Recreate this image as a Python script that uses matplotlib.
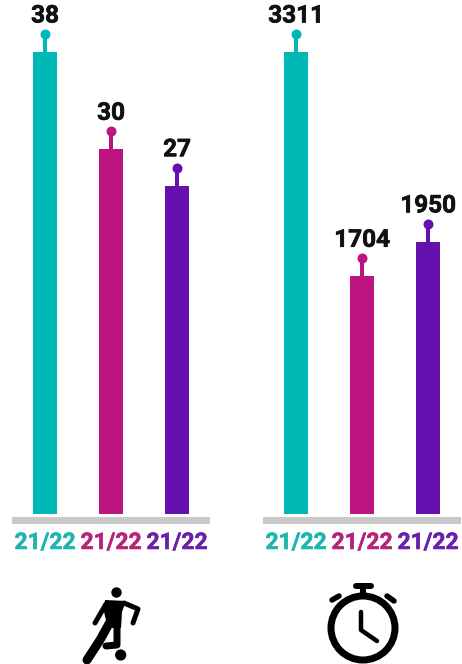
import numpy as np
import matplotlib
matplotlib.use('Agg')
import matplotlib.pyplot as plt
import matplotlib.patheffects as pe
from matplotlib.patches import Circle, Polygon, Rectangle
from matplotlib.transforms import ScaledTranslation

plt.rcParams['font.family'] = ['Roboto', 'DejaVu Sans']

# Data
seasons = ['21/22', '21/22', '21/22']
games = [38, 30, 27]
minutes = [3311, 1704, 1950]
bar_colors = ['#00B9B6', '#BC1480', '#6410AE']
label_colors = ['#1DB6AE', '#B8237A', '#6A20A9']

W, H = 462, 664
BASE = 514  # pixel row of the bars' foot
TOP = 52    # pixel row of the tallest bar
px = 0.72   # pixels to points at dpi 100

fig = plt.figure(figsize=(W / 100, H / 100), dpi=100)
fig.patch.set_facecolor('white')


def bar_panel(left, values):
    ax = fig.add_axes([left / W, (H - BASE) / H, 198 / W, BASE / H])
    ax.patch.set_alpha(0)
    x = np.arange(len(values))
    ax.bar(x, values, width=24 / 66, color=bar_colors)
    ax.set_xlim(-0.5, 2.5)
    ax.set_ylim(0, max(values) * BASE / (BASE - TOP))
    ax.set_yticks([])
    ax.set_xticks(x)
    ax.set_xticklabels(seasons, fontsize=16.5, fontweight='bold')
    for lab, c in zip(ax.get_xticklabels(), label_colors):
        lab.set_color(c)
        lab.set_path_effects([pe.withStroke(linewidth=0.4, foreground=c)])
    ax.tick_params(axis='x', length=0, pad=17 * px)
    for s in ax.spines.values():
        s.set_visible(False)
    lift = ScaledTranslation(0, 18 / 100, fig.dpi_scale_trans)
    for xi, v, c in zip(x, values, bar_colors):
        # stem and dot sit a fixed distance above the bar
        ax.annotate('', xy=(xi, v), xytext=(0, 18 * px), textcoords='offset points',
                    arrowprops=dict(arrowstyle='-', color=c, lw=4 * px, shrinkA=0, shrinkB=0))
        ax.plot([xi], [v], marker='o', ms=10 * px, mew=0, color=c, clip_on=False,
                transform=ax.transData + lift)
        ax.annotate(str(v), xy=(xi, v), xytext=(0, 36 * px), textcoords='offset points',
                    ha='center', va='center', fontsize=17.5, fontweight='bold', color='#111111',
                    path_effects=[pe.withStroke(linewidth=0.5, foreground='#111111')])
    return ax


ax1 = bar_panel(12, games)
ax2 = bar_panel(263, minutes)

# Overlay in pixel coordinates for the base rules and the icons
ov = fig.add_axes([0, 0, 1, 1], zorder=-1)
ov.set_xlim(0, W)
ov.set_ylim(H, 0)
ov.axis('off')
ov.add_patch(Rectangle((12, 517), 198, 7, color='#C9C9C9', lw=0))
ov.add_patch(Rectangle((263, 517), 198, 7, color='#C9C9C9', lw=0))


def stroke(xs, ys, w):
    ov.plot(xs, ys, color='black', lw=w * px, solid_capstyle='round', solid_joinstyle='round')


# Footballer
ov.add_patch(Circle((116.5, 592.5), 5.2, color='black', lw=0))
ov.add_patch(Circle((120.7, 655), 5.6, color='black', lw=0))
ov.add_patch(Polygon([(105, 600), (126, 601), (122, 612), (121, 628), (108, 628), (104, 612)],
                     color='black', lw=0))
stroke([106, 95], [604, 623], 5)
stroke([124, 138, 133], [603, 609, 623], 5)
stroke([110, 100, 87], [622, 640, 660], 9)
stroke([117, 117, 106], [625, 645, 646], 7)

# Stopwatch
ov.add_patch(Circle((363, 628), 32, fill=False, ec='black', lw=7 * px))
stroke([363, 363], [586, 596], 6)
stroke([356, 371], [586, 586], 6)
stroke([332, 339], [600, 596], 5.5)
stroke([387, 394], [596, 601], 5.5)
stroke([361, 361, 377], [612, 630, 641], 4.5)

fig.savefig('out.png', dpi=100, facecolor='white')
